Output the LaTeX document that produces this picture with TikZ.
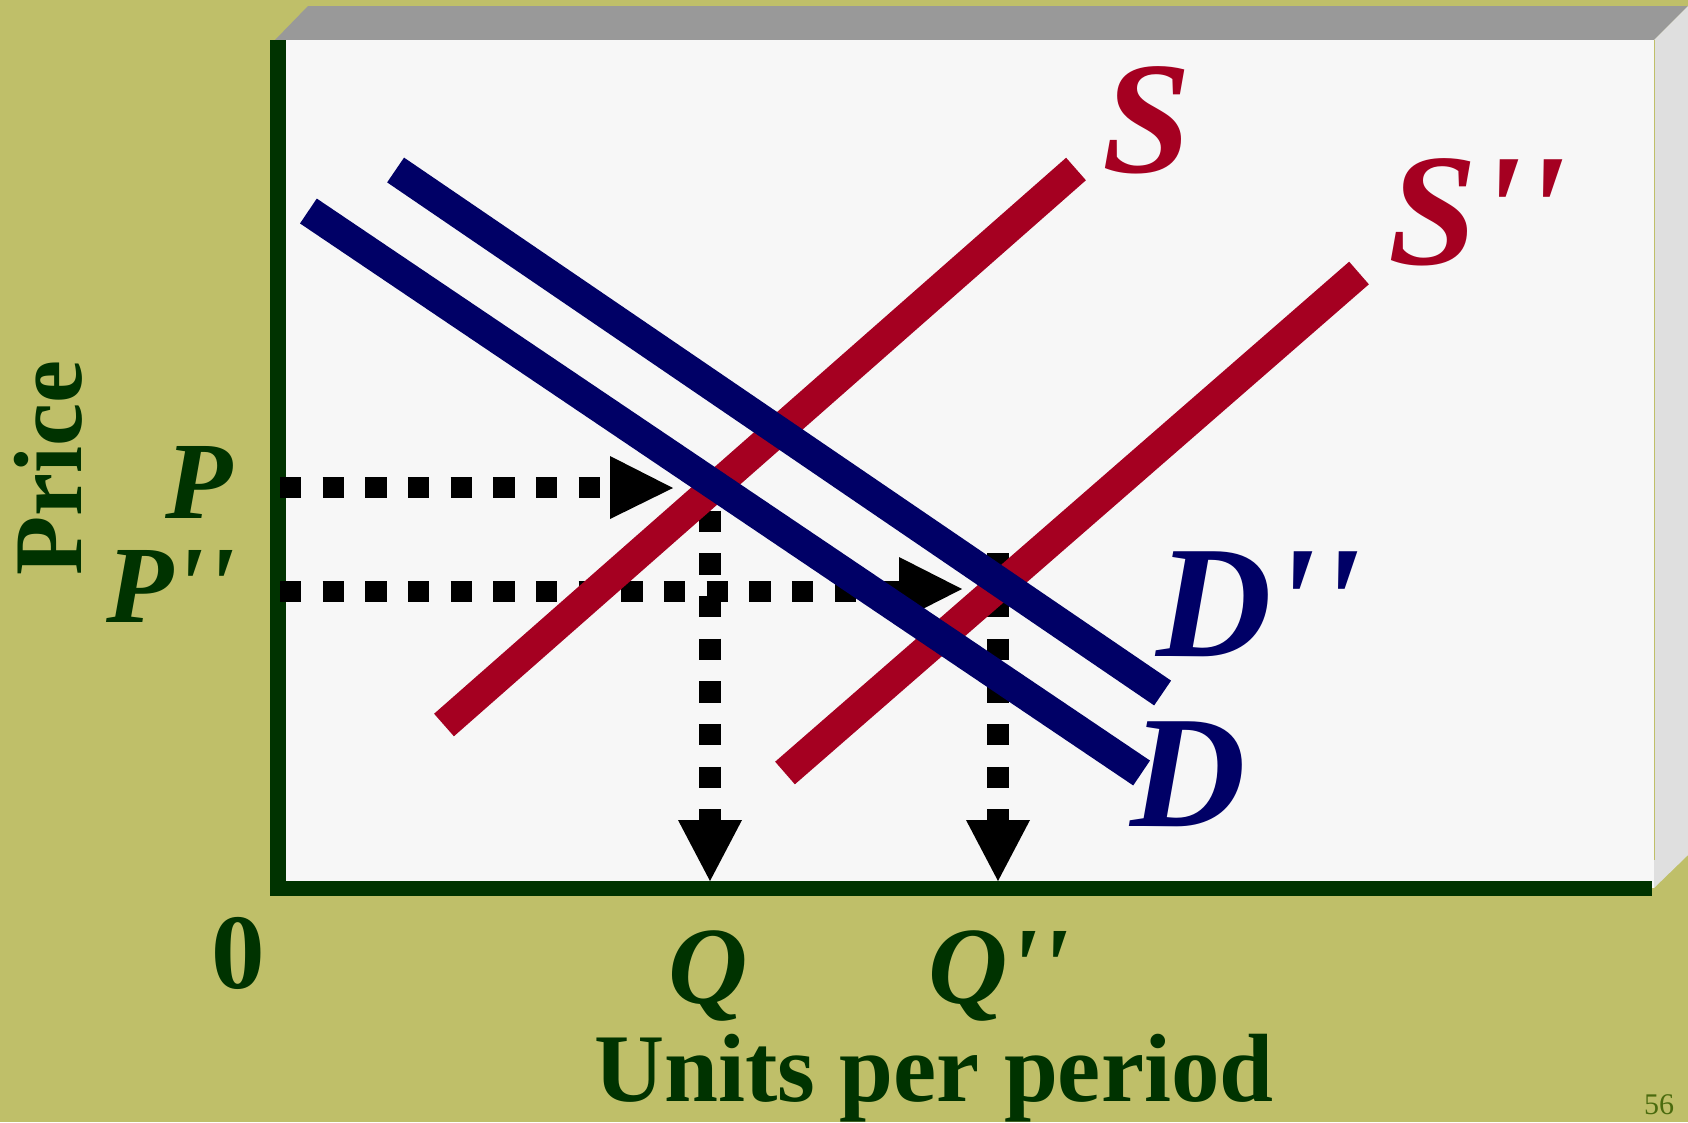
\documentclass[tikz,border=0pt]{standalone}
\usepackage{fontspec}
\setmainfont{Liberation Serif}
\newfontfamily\labf{Liberation Serif}[Ligatures=TeXOff]
\definecolor{olivebg}{RGB}{191,191,105}
\definecolor{topgray}{RGB}{153,153,153}
\definecolor{sidegray}{RGB}{223,223,223}
\definecolor{plotbg}{RGB}{247,247,247}
\definecolor{axgreen}{RGB}{0,51,0}
\definecolor{supred}{RGB}{165,0,33}
\definecolor{demblue}{RGB}{0,0,102}
\definecolor{pagegreen}{RGB}{74,107,14}
\tikzset{
  curve/.style={line width=30pt, line cap=butt},
  dotline/.style={line width=21.33pt, line cap=butt, dash pattern=on 21.33pt off 21.33pt},
  tip/.style={fill=black},
  axis/.style={draw=none, fill=axgreen},
  bigital/.style={inner sep=0pt, font=\labf\bfseries\itshape\fontsize{160}{160}\selectfont},
  midital/.style={inner sep=0pt, text=axgreen, font=\labf\bfseries\itshape\fontsize{110}{110}\selectfont},
  axlab/.style={inner sep=0pt, text=axgreen, font=\bfseries\fontsize{97}{97}\selectfont},
}
\begin{document}
\begin{tikzpicture}[x=1pt,y=-1pt]
\useasboundingbox (0,0) rectangle (1688,1122);
\fill[olivebg] (0,0) rectangle (1688,1122);
% box
\fill[topgray] (275,40) -- (308,6) -- (1688,6) -- (1654,40) -- cycle;
\fill[sidegray] (1654,40) -- (1688,6) -- (1688,855) -- (1654,888) -- cycle;
\fill[plotbg] (278,40) rectangle (1654,888);
\draw[olivebg, line width=1pt] (1654.5,40) -- (1654.5,860);
% axes
\fill[axgreen] (270,40) rectangle (286,896);
\fill[axgreen] (270,881) rectangle (1652,896);
% dotted guide lines
\coordinate (p1) at (280,487.5);
\coordinate (p2) at (610,487.5);
\coordinate (pp1) at (280,591.5);
\coordinate (pp2) at (899,591.5);
\coordinate (q1) at (710,468);
\coordinate (q2) at (710,820);
\coordinate (qq1) at (998,553.3);
\coordinate (qq2) at (998,820);
\draw[dotline] (p1) -- (p2);
\draw[dotline] (pp1) -- (pp2);
\draw[dotline] (q1) -- (q2);
\draw[dotline] (qq1) -- (qq2);
\fill[tip] (610,456) -- (610,519) -- (673,488) -- cycle;
\fill[tip] (899,557) -- (899,621) -- (962,589) -- cycle;
\fill[tip] (678,820) -- (742,820) -- (710,881) -- cycle;
\fill[tip] (966,820) -- (1030,820) -- (998,881) -- cycle;
% supply curves
\coordinate (s1) at (444,725);
\coordinate (s2) at (1076,169);
\coordinate (ss1) at (785,773);
\coordinate (ss2) at (1359,273);
\draw[curve, supred] (s1) -- (s2);
\draw[curve, supred] (ss1) -- (ss2);
% demand curves
\coordinate (d1) at (308.4,211);
\coordinate (d2) at (1141.6,773);
\coordinate (dd1) at (395.6,170);
\coordinate (dd2) at (1162.6,693);
\draw[curve, demblue] (d1) -- (d2);
\draw[curve, demblue] (dd1) -- (dd2);
% curve labels
\node[bigital, text=supred, anchor=base west] (lS) at (1102,172) {S};
\node[bigital, text=supred, anchor=base west] (lSS) at (1388,264) {S''};
\node[bigital, text=demblue, anchor=base west] (lDD) at (1156,656) {D''};
\node[bigital, text=demblue, anchor=base west] (lD) at (1130,826) {D};
% axis value labels
\node[midital, anchor=base east] (lP) at (233,518) {P};
\node[midital, anchor=base east] (lPP) at (235,622) {P''};
\node[axlab, font=\bfseries\fontsize{107}{107}\selectfont, anchor=base] (l0) at (238.5,988) {0};
\node[midital, anchor=base west] (lQ) at (668,1003) {Q};
\node[midital, anchor=base west] (lQQ) at (928,1003) {Q''};
% axis titles
\node[axlab, rotate=90, anchor=base] (ly) at (81,468) {Price};
\node[axlab, anchor=base] (lx) at (934,1101) {Units per period};
\node[inner sep=0pt, text=pagegreen, anchor=base west, font=\fontsize{30}{30}\selectfont] (pg) at (1644,1114) {56};
\end{tikzpicture}
\end{document}
